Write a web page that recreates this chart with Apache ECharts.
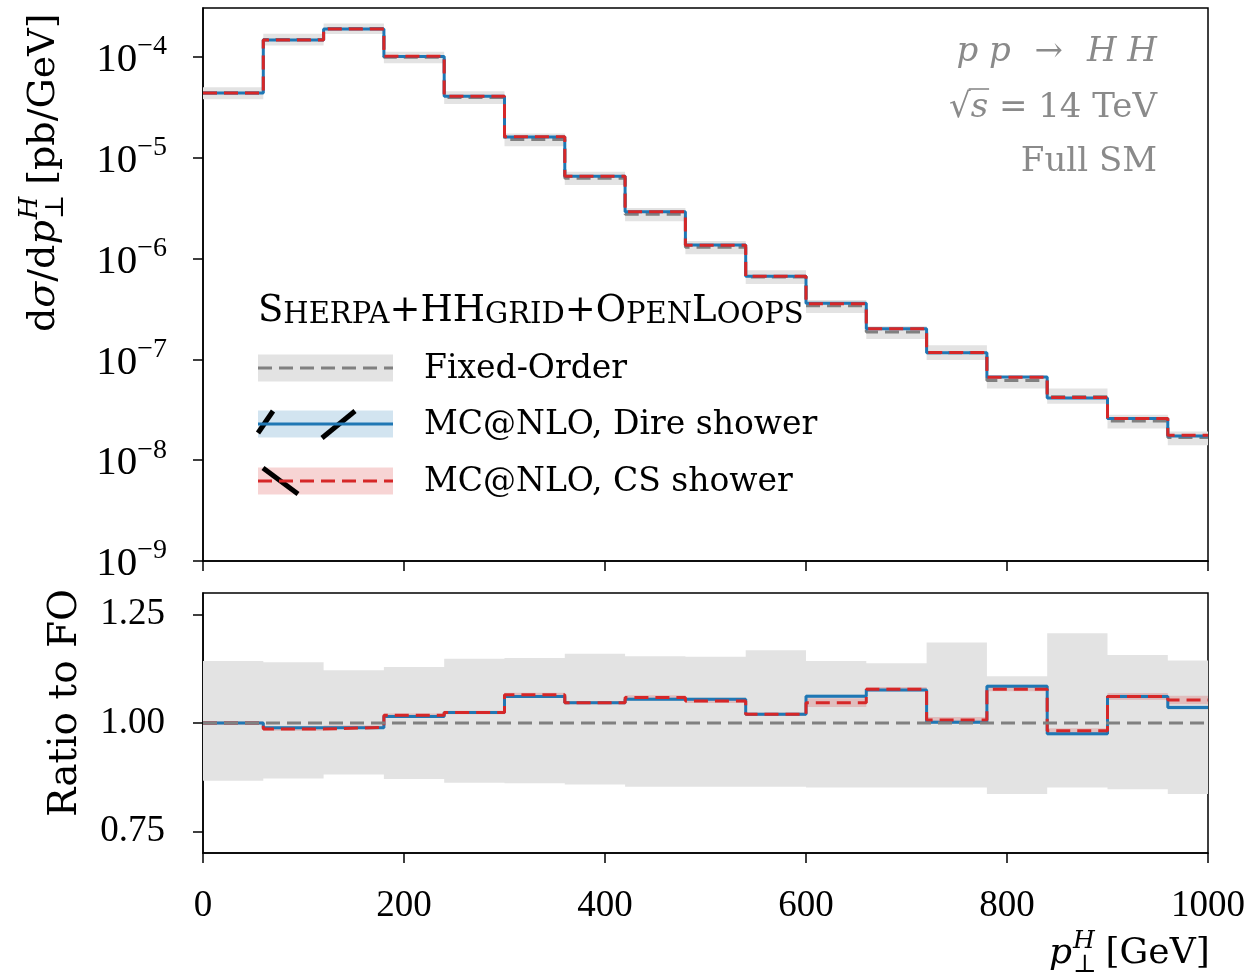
<!DOCTYPE html>
<html>
<head>
<meta charset="utf-8">
<script src="https://cdn.jsdelivr.net/npm/echarts@6/dist/echarts.min.js"></script>
<style>
  html, body { margin: 0; padding: 0; background: #ffffff; }
  #chart { width: 1250px; height: 980px; }
</style>
</head>
<body>
<div id="chart"></div>
<script>
// Higgs-pair transverse-momentum spectrum, 60 GeV bins (last bin cut at 1000 GeV)
const binEdges = [0, 60, 120, 180, 240, 300, 360, 420, 480, 540, 600, 660, 720, 780, 840, 900, 960, 1000];

// Fixed-order cross section per bin [pb/GeV]
const fixedOrder = [4.37e-5, 1.486e-4, 1.91e-4, 9.93e-5, 3.96e-5, 1.51e-5, 6.24e-6, 2.75e-6, 1.29e-6,
                    6.55e-7, 3.39e-7, 1.87e-7, 1.16e-7, 6.16e-8, 4.25e-8, 2.44e-8, 1.68e-8];
// Fixed-order scale-uncertainty envelope, relative to the central value
const foBandUp   = [1.143, 1.140, 1.122, 1.129, 1.148, 1.150, 1.160, 1.154, 1.153, 1.168, 1.143, 1.138, 1.186, 1.108, 1.207, 1.157, 1.144];
const foBandDown = [0.867, 0.872, 0.881, 0.871, 0.862, 0.861, 0.858, 0.853, 0.853, 0.853, 0.851, 0.851, 0.851, 0.836, 0.851, 0.847, 0.836];
// MC@NLO predictions relative to fixed order
const ratioDire = [1.000, 0.989, 0.989, 1.015, 1.024, 1.061, 1.047, 1.055, 1.055, 1.020, 1.062, 1.076, 1.002, 1.085, 0.975, 1.061, 1.036];
const ratioCS   = [1.000, 0.986, 0.990, 1.018, 1.024, 1.065, 1.047, 1.059, 1.051, 1.020, 1.047, 1.078, 1.007, 1.078, 0.982, 1.061, 1.053];
// MC@NLO statistical half-widths (relative to fixed order)
const errDire = [0.003, 0.003, 0.003, 0.003, 0.003, 0.003, 0.003, 0.003, 0.003, 0.003, 0.004, 0.003, 0.004, 0.004, 0.004, 0.004, 0.005];
const errCS   = [0.004, 0.004, 0.004, 0.004, 0.004, 0.005, 0.004, 0.005, 0.005, 0.004, 0.010, 0.005, 0.007, 0.005, 0.006, 0.008, 0.010];

// Axis ticks
const xTicks = [0, 200, 400, 600, 800, 1000];
const yTicksSpectrum = [1e-9, 1e-8, 1e-7, 1e-6, 1e-5, 1e-4];
const yTicksRatio = [0.75, 1.00, 1.25];

// Legend texts (title in small capitals: 1 = full-size capital, 0 = small capital)
const legendTitle = [['S', 1], ['HERPA', 0], ['+HH', 1], ['GRID', 0], ['+O', 1], ['PEN', 0], ['L', 1], ['OOPS', 0]];
const legendLabels = ['Fixed-Order', 'MC@NLO, Dire shower', 'MC@NLO, CS shower'];

// ---------------------------------------------------------------------------
const C_BLUE = '#1f77b4', C_RED = '#d62728', C_GREY = '#808080';
const BAND_GREY = '#e3e3e3', BAND_BLUE = 'rgba(31,119,180,0.2)', BAND_RED = 'rgba(214,39,40,0.2)';
const SERIF = '"DejaVu Serif", serif';
const NUMF = '"Liberation Serif", serif';
const TXT = 33;

const mul = (a, b) => a.map((v, i) => v * b[i]);
const shift = (a, b, s) => a.map((v, i) => v + s * b[i]);
const xsDire = mul(fixedOrder, ratioDire);
const xsCS = mul(fixedOrder, ratioCS);

const stepPoints = vals => binEdges.map((e, i) => [e, vals[Math.min(i, vals.length - 1)]]);

function band(gridIdx, lower, upper, color, z) {
  return {
    type: 'custom', xAxisIndex: gridIdx, yAxisIndex: gridIdx, z: z, silent: true, clip: true,
    data: [[500, gridIdx === 0 ? 1e-6 : 1]],
    renderItem: function (params, api) {
      const pts = [];
      for (let i = 0; i < lower.length; i++) {
        pts.push(api.coord([binEdges[i], upper[i]]), api.coord([binEdges[i + 1], upper[i]]));
      }
      for (let i = lower.length - 1; i >= 0; i--) {
        pts.push(api.coord([binEdges[i + 1], lower[i]]), api.coord([binEdges[i], lower[i]]));
      }
      return { type: 'polygon', shape: { points: pts }, style: { fill: color } };
    }
  };
}

function stepLine(gridIdx, vals, color, dashed, z) {
  return {
    type: 'line', xAxisIndex: gridIdx, yAxisIndex: gridIdx, step: 'end', z: z,
    data: stepPoints(vals), showSymbol: false, silent: true, clip: true,
    lineStyle: { color: color, width: 3, type: dashed ? [14, 7] : 'solid', cap: 'butt' }
  };
}

// text measuring for hand-placed math labels
const mctx = document.createElement('canvas').getContext('2d');
function tw(text, size, italic, fam) {
  mctx.font = (italic ? 'italic ' : '') + size + 'px ' + (fam || SERIF);
  return mctx.measureText(text).width;
}
function txt(x, y, text, size, opts) {
  opts = opts || {};
  return {
    type: 'text', x: x, y: y, z: 20, silent: true,
    style: {
      text: text, fill: opts.fill || '#000', fontSize: size, fontFamily: opts.fam || SERIF,
      fontStyle: opts.italic ? 'italic' : 'normal',
      align: opts.align || 'left', verticalAlign: 'middle'
    }
  };
}

// math label pieces laid out from x=0 along the baseline
function mathLabel(size, color) {
  const parts = [];
  let x = 0;
  const push = (t, italic, dy, sz) => {
    parts.push(txt(x, dy || 0, t, sz || size, { italic: italic, fill: color }));
    return tw(t, sz || size, italic);
  };
  return { parts: parts, push: push, adv: w => { x += w; } };
}

const graphics = [];

// y title: dσ/dp⊥^H [pb/GeV]
(function () {
  const S = 38, s = 26;
  const m = mathLabel(S, '#000');
  m.adv(m.push('d', false));
  m.adv(m.push('σ', true));
  m.adv(m.push('/d', false));
  m.adv(m.push('p', true) + 1);
  const wH = m.push('H', true, -14, s);
  const wP = m.push('⊥', false, 12, s);
  m.adv(Math.max(wH, wP) + 10);
  m.adv(m.push('[pb/GeV]', false));
  graphics.push({ type: 'group', x: 44, y: 332, rotation: Math.PI / 2, children: m.parts });
})();

// ratio title
graphics.push({ type: 'group', x: 66, y: 703, rotation: Math.PI / 2,
  children: [txt(0, 0, 'Ratio to FO', 39, { align: 'center' })] });

// x title: p⊥^H [GeV], right-aligned on the axis end
(function () {
  const S = 36, s = 25;
  const widthP = tw('p', S, true), widthH = tw('H', s, true), widthG = tw('[GeV]', S, false);
  const total = widthP + 1 + widthH + 9 + widthG;
  const m = mathLabel(S, '#000');
  m.adv(m.push('p', true) + 1);
  const wH = m.push('H', true, -13, s);
  const wP = m.push('⊥', false, 11, s);
  m.adv(Math.max(wH, wP) + 9);
  m.push('[GeV]', false);
  graphics.push({ type: 'group', x: 1208 - total, y: 954, children: m.parts });
})();

// process annotation (top right)
(function () {
  const G = '#8a8a8a', R = 1157, S = 34;
  const richStyle = {
    i: { fontStyle: 'italic', fontSize: S, fontFamily: SERIF, fill: G, color: G },
    n: { fontSize: S, fontFamily: SERIF, fill: G, color: G }
  };
  graphics.push({ type: 'text', x: R, y: 52, z: 20, silent: true,
    style: { text: '{i|p p}{n|\u2002\u2009→\u2002\u2009}{i|H H}', rich: richStyle, align: 'right', verticalAlign: 'middle' } });
  graphics.push({ type: 'text', x: R, y: 108, z: 20, silent: true,
    style: { text: '{n|√}{i|s}{n| = 14 TeV}', rich: richStyle, align: 'right', verticalAlign: 'middle' } });
  const xs = R - tw(' = 14 TeV', S, false);
  const wS = tw('s', S, true);
  graphics.push({ type: 'line', z: 20, silent: true,
    shape: { x1: xs - wS - 2, y1: 89, x2: xs + 1, y2: 89 }, style: { stroke: G, lineWidth: 1.6 } });
  graphics.push(txt(R, 162, 'Full SM', S, { fill: G, align: 'right' }));
})();

// legend
(function () {
  let x = 258;
  legendTitle.forEach(p => {
    const size = p[1] ? 37 : 29;
    graphics.push({ type: 'text', x: x, y: 330, z: 20, silent: true,
      style: { text: p[0], fill: '#000', fontSize: size, fontFamily: SERIF, align: 'left', verticalAlign: 'bottom' } });
    x += tw(p[0], size, false);
  });
  const hx = 258, hw = 135, hh = 27;
  const rows = [368, 424, 481];
  const fills = [BAND_GREY, BAND_BLUE, BAND_RED];
  rows.forEach((y, i) => {
    graphics.push({ type: 'rect', z: 18, silent: true, shape: { x: hx, y: y - hh / 2, width: hw, height: hh }, style: { fill: fills[i] } });
    graphics.push(txt(424, y + 1, legendLabels[i], TXT));
  });
  // hatch strokes
  graphics.push({ type: 'line', z: 19, silent: true, shape: { x1: 258, y1: 433, x2: 273, y2: 411 }, style: { stroke: '#000', lineWidth: 5 } });
  graphics.push({ type: 'line', z: 19, silent: true, shape: { x1: 322, y1: 438, x2: 355, y2: 411 }, style: { stroke: '#000', lineWidth: 5 } });
  graphics.push({ type: 'line', z: 19, silent: true, shape: { x1: 263, y1: 468, x2: 298, y2: 494 }, style: { stroke: '#000', lineWidth: 5 } });
  // line samples
  graphics.push({ type: 'line', z: 19, silent: true, shape: { x1: hx, y1: rows[0], x2: hx + hw, y2: rows[0] }, style: { stroke: C_GREY, lineWidth: 3, lineDash: [14, 7] } });
  graphics.push({ type: 'line', z: 19, silent: true, shape: { x1: hx, y1: rows[1], x2: hx + hw, y2: rows[1] }, style: { stroke: C_BLUE, lineWidth: 3 } });
  graphics.push({ type: 'line', z: 19, silent: true, shape: { x1: hx, y1: rows[2], x2: hx + hw, y2: rows[2] }, style: { stroke: C_RED, lineWidth: 3, lineDash: [14, 7] } });
})();

const axisLine = { show: true, lineStyle: { color: '#000', width: 1.5 } };
const axisTick = { show: true, inside: false, length: 10, lineStyle: { color: '#000', width: 1.5 } };

const option = {
  animation: false,
  backgroundColor: '#ffffff',
  grid: [
    { left: 203, top: 8, width: 1005, height: 553, show: true, borderColor: '#000', borderWidth: 1.5, backgroundColor: 'transparent' },
    { left: 203, top: 593, width: 1005, height: 260, show: true, borderColor: '#000', borderWidth: 1.5, backgroundColor: 'transparent' }
  ],
  xAxis: [
    { gridIndex: 0, type: 'value', min: 0, max: 1000, splitLine: { show: false }, axisLine: axisLine,
      axisTick: Object.assign({ customValues: xTicks }, axisTick), axisLabel: { show: false, customValues: xTicks } },
    { gridIndex: 1, type: 'value', min: 0, max: 1000, splitLine: { show: false }, axisLine: axisLine,
      axisTick: Object.assign({ customValues: xTicks }, axisTick),
      axisLabel: { customValues: xTicks, margin: 35, fontSize: 37, fontFamily: NUMF, color: '#000', formatter: v => String(v) } }
  ],
  yAxis: [
    { gridIndex: 0, type: 'log', logBase: 10, min: 1e-9, max: 3.05e-4, splitLine: { show: false }, axisLine: axisLine,
      axisTick: Object.assign({ customValues: yTicksSpectrum }, axisTick),
      axisLabel: {
        customValues: yTicksSpectrum, margin: 36, color: '#000', fontFamily: NUMF,
        formatter: v => '{b|10}{e|−' + (-Math.round(Math.log10(v))) + '}',
        rich: {
          b: { fontSize: 41, fontFamily: NUMF, color: '#000', lineHeight: 48, verticalAlign: 'bottom' },
          e: { fontSize: 28, fontFamily: NUMF, color: '#000', lineHeight: 28, verticalAlign: 'top' }
        }
      } },
    { gridIndex: 1, type: 'value', min: 0.70, max: 1.30, splitLine: { show: false }, axisLine: axisLine,
      axisTick: Object.assign({ customValues: yTicksRatio }, axisTick),
      axisLabel: { customValues: yTicksRatio, margin: 38, fontSize: 37, fontFamily: NUMF, color: '#000', formatter: v => v.toFixed(2) } }
  ],
  series: [
    // spectrum panel
    band(0, mul(fixedOrder, foBandDown), mul(fixedOrder, foBandUp), BAND_GREY, 1),
    band(0, mul(fixedOrder, shift(ratioDire, errDire, -1)), mul(fixedOrder, shift(ratioDire, errDire, 1)), BAND_BLUE, 1),
    band(0, mul(fixedOrder, shift(ratioCS, errCS, -1)), mul(fixedOrder, shift(ratioCS, errCS, 1)), BAND_RED, 1),
    stepLine(0, fixedOrder, C_GREY, true, 2),
    stepLine(0, xsDire, C_BLUE, false, 3),
    stepLine(0, xsCS, C_RED, true, 4),
    // ratio panel
    band(1, foBandDown, foBandUp, BAND_GREY, 1),
    band(1, shift(ratioDire, errDire, -1), shift(ratioDire, errDire, 1), BAND_BLUE, 1),
    band(1, shift(ratioCS, errCS, -1), shift(ratioCS, errCS, 1), BAND_RED, 1),
    stepLine(1, ratioDire, C_BLUE, false, 3),
    stepLine(1, ratioCS, C_RED, true, 4),
    { type: 'line', xAxisIndex: 1, yAxisIndex: 1, z: 5, data: [[0, 1], [1000, 1]], showSymbol: false, silent: true,
      lineStyle: { color: C_GREY, width: 3, type: [14, 7], cap: 'butt' } }
  ],
  graphic: { elements: graphics }
};

const chart = echarts.init(document.getElementById('chart'), null, { renderer: 'canvas', width: 1250, height: 980 });
chart.setOption(option);
</script>
</body>
</html>
